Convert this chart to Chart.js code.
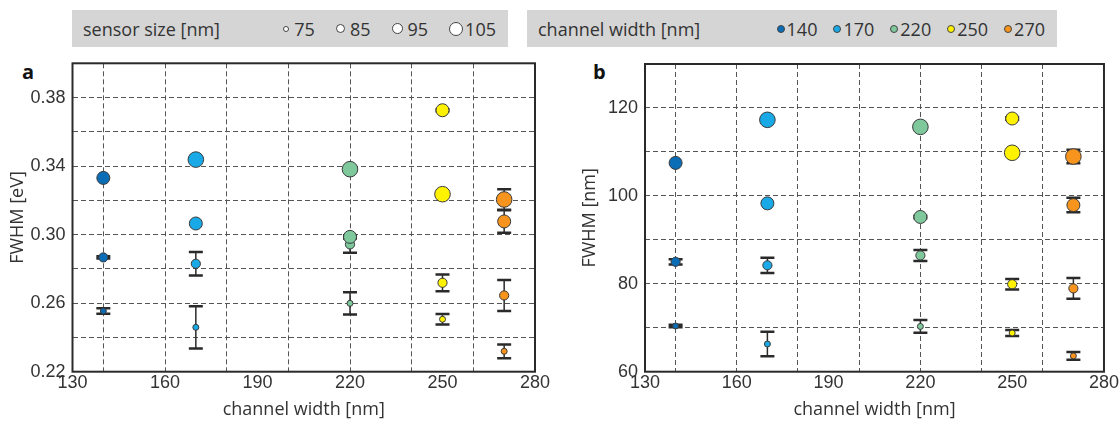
<!DOCTYPE html>
<html>
<head>
<meta charset="utf-8">
<script src="https://cdn.jsdelivr.net/npm/chart.js@4/dist/chart.umd.min.js"></script>
<style>
body{margin:0;background:#fff;width:1120px;height:430px;position:relative;overflow:hidden;font-family:'Open Sans',sans-serif;color:#333}
.panel{position:absolute;top:0;height:430px}
.legend{position:absolute;top:10px;height:37px;background:#d5d5d5;display:flex;align-items:center;font-size:18px;box-sizing:border-box;padding:0 12px 0 11px;z-index:2}
.legend .sp{flex:1}
.legend .item{display:flex;align-items:center}
.legend .dot{display:inline-block;border-radius:50%;border:1px solid #444;box-sizing:border-box}
.tag{position:absolute;top:58px;font:bold 20px 'Open Sans',sans-serif;color:#111}
</style>
</head>
<body>
<div class="legend" id="legSize" style="left:72px;width:436px"><span>sensor size [nm]</span><span class="sp"></span></div>
<div class="legend" id="legWidth" style="left:527px;width:530px"><span>channel width [nm]</span><span class="sp"></span></div>
<div class="tag" style="left:22px">a</div>
<div class="tag" style="left:593px">b</div>
<div class="panel" style="left:0;width:560px"><canvas id="chartA"></canvas></div>
<div class="panel" style="left:572px;width:548px"><canvas id="chartB"></canvas></div>
<script>
/* DADOS */
const channelWidths = [140, 170, 220, 250, 270];
const sensorSizes = [75, 85, 95, 105];
const widthColors = ['#0a6db6', '#18a9e6', '#7ec89c', '#fff200', '#f7941d'];

const xTickLabels = [130, 160, 190, 220, 250, 280];
const xGridLines = [140, 160, 180, 200, 220, 240, 260];
const evTickLabels = [0.22, 0.26, 0.30, 0.34, 0.38];
const evGridLines = [0.24, 0.26, 0.28, 0.30, 0.32, 0.34, 0.36, 0.38];
const nmTickLabels = [60, 80, 100, 120];
const nmGridLines = [70, 80, 90, 100, 110, 120];

// FWHM [eV] - ordem de sensorSizes (75, 85, 95, 105)
const ev140 = [0.2554, 0.2867, 0.3331, null];
const ev170 = [0.2459, 0.2830, 0.3065, 0.3438];
const ev220 = [0.2599, 0.2943, 0.2987, 0.3382];
const ev250 = [0.2506, 0.2719, 0.3726, 0.3236];
const ev270 = [0.2319, 0.2645, 0.3077, 0.3205];
const evErr140 = [0.0016, 0.0007, 0, null];
const evErr170 = [0.0123, 0.0068, 0, 0];
const evErr220 = [0.0065, 0.0049, 0.001, 0];
const evErr250 = [0.0031, 0.0049, 0.0006, 0];
const evErr270 = [0.0040, 0.0090, 0.0066, 0.0060];

// FWHM [nm]
const nm140 = [70.4, 85.0, 107.5, null];
const nm170 = [66.3, 84.2, 98.3, 117.3];
const nm220 = [70.3, 86.45, 95.2, 115.7];
const nm250 = [68.8, 79.9, 117.6, 109.8];
const nm270 = [63.6, 78.95, 97.9, 108.95];
const nmErr140 = [0.3, 0.6, 0, null];
const nmErr170 = [2.8, 1.75, 0, 0];
const nmErr220 = [1.45, 1.25, 0.3, 0];
const nmErr250 = [0.7, 1.2, 0.3, 0];
const nmErr270 = [0.9, 2.35, 1.65, 1.55];

/* ESTILO */
const markerRadius = [3, 4.6, 6.5, 7.8];
const legendSizeDiam = [6, 9, 11, 14];
const tickFont = {family: "'Liberation Sans Narrow', sans-serif", size: 18};
const titleFont = {family: "'Open Sans', sans-serif", size: 18};
const ink = '#333';
const has = (arr, v) => arr.some(a => Math.abs(a - v) < 1e-6);

/* LEGENDAS */
const legSize = document.getElementById('legSize');
sensorSizes.forEach((s, j) => {
    const it = document.createElement('span');
    it.className = 'item';
    it.style.marginLeft = j ? '21px' : '0';
    const d = legendSizeDiam[j];
    it.innerHTML = '<span class="dot" style="width:' + d + 'px;height:' + d + 'px;background:#fff;margin-right:' + (j === 3 ? 2 : 5) + 'px"></span>' + s;
    legSize.appendChild(it);
});
const legWidth = document.getElementById('legWidth');
channelWidths.forEach((w, i) => {
    const it = document.createElement('span');
    it.className = 'item';
    it.style.marginLeft = i ? '16px' : '0';
    it.innerHTML = '<span class="dot" style="width:8px;height:8px;background:' + widthColors[i] + ';margin-right:2px"></span>' + w;
    legWidth.appendChild(it);
});

/* BARRAS DE ERRO + MOLDURA */
const errorBars = {
    id: 'errorBars',
    beforeDatasetsDraw(chart) {
        const {ctx, scales: {x, y}} = chart;
        ctx.save();
        ctx.strokeStyle = '#2a2a2a';
        chart.data.datasets.forEach(ds => {
            ds.data.forEach(p => {
                if (!p.err) return;
                const px = x.getPixelForValue(p.x);
                const y1 = y.getPixelForValue(p.y + p.err);
                const y2 = y.getPixelForValue(p.y - p.err);
                ctx.lineWidth = 1.5;
                ctx.beginPath(); ctx.moveTo(px, y1); ctx.lineTo(px, y2); ctx.stroke();
                ctx.lineWidth = 2.5;
                ctx.beginPath();
                ctx.moveTo(px - 7, y1); ctx.lineTo(px + 7, y1);
                ctx.moveTo(px - 7, y2); ctx.lineTo(px + 7, y2);
                ctx.stroke();
            });
        });
        ctx.restore();
    }
};
const frame = {
    id: 'frame',
    afterDraw(chart) {
        const {ctx, chartArea: a} = chart;
        ctx.save();
        ctx.strokeStyle = '#2a2a2a';
        ctx.lineWidth = 2;
        ctx.strokeRect(a.left, a.top, a.right - a.left, a.bottom - a.top);
        ctx.restore();
    }
};

function buildDatasets(values, errors) {
    return channelWidths.map((w, i) => {
        const pts = [];
        const radii = [];
        sensorSizes.forEach((s, j) => {
            if (values[i][j] == null) return;
            pts.push({x: w, y: values[i][j], err: errors[i][j]});
            radii.push(markerRadius[j]);
        });
        return {
            label: w + ' nm',
            data: pts,
            pointRadius: radii,
            pointBackgroundColor: widthColors[i],
            pointBorderColor: '#3a3a3a',
            pointBorderWidth: 1
        };
    });
}

function makeChart(id, values, errors, yMin, yMax, yStep, yLabels, yGrid, yTitle, fmt, padTop, padRight, yWidth) {
    new Chart(document.getElementById(id), {
        type: 'scatter',
        data: {datasets: buildDatasets(values, errors)},
        options: {
            responsive: true,
            maintainAspectRatio: false,
            animation: false,
            layout: {padding: {top: padTop, right: padRight, left: 4, bottom: 0}},
            plugins: {legend: {display: false}, tooltip: {enabled: false}},
            scales: {
                x: {
                    type: 'linear', min: 130, max: 280,
                    ticks: {stepSize: 10, autoSkip: false, maxRotation: 0, padding: 1, color: ink, font: tickFont,
                        callback: v => has(xTickLabels, v) ? String(v) : ''},
                    grid: {color: c => has(xGridLines, c.tick.value) ? '#555' : 'rgba(0,0,0,0)', drawTicks: false, lineWidth: 1},
                    border: {display: false, dash: [5, 3]},
                    title: {display: true, text: 'channel width [nm]', color: ink, font: titleFont, padding: {top: 0, bottom: 9}},
                    afterFit: s => { s.height = 58.3; }
                },
                y: {
                    min: yMin, max: yMax,
                    ticks: {stepSize: yStep, autoSkip: false, padding: 7, color: ink, font: tickFont,
                        callback: v => has(yLabels, v) ? fmt(v) : ''},
                    grid: {color: c => has(yGrid, c.tick.value) ? '#555' : 'rgba(0,0,0,0)', drawTicks: false, lineWidth: 1},
                    border: {display: false, dash: [5, 3]},
                    title: {display: true, text: yTitle, color: ink, font: titleFont, padding: {top: 3, bottom: 0}},
                    afterFit: s => { s.width = yWidth; }
                }
            }
        },
        plugins: [errorBars, frame]
    });
}

makeChart('chartA',
    [ev140, ev170, ev220, ev250, ev270],
    [evErr140, evErr170, evErr220, evErr250, evErr270],
    0.22, 0.40, 0.02, evTickLabels, evGridLines, 'FWHM [eV]', v => v.toFixed(2), 63.3, 25, 68.5);

makeChart('chartB',
    [nm140, nm170, nm220, nm250, nm270],
    [nmErr140, nmErr170, nmErr220, nmErr250, nmErr270],
    60, 130, 10, nmTickLabels, nmGridLines, 'FWHM [nm]', v => String(v), 64, 13.5, 69);
</script>
</body>
</html>
